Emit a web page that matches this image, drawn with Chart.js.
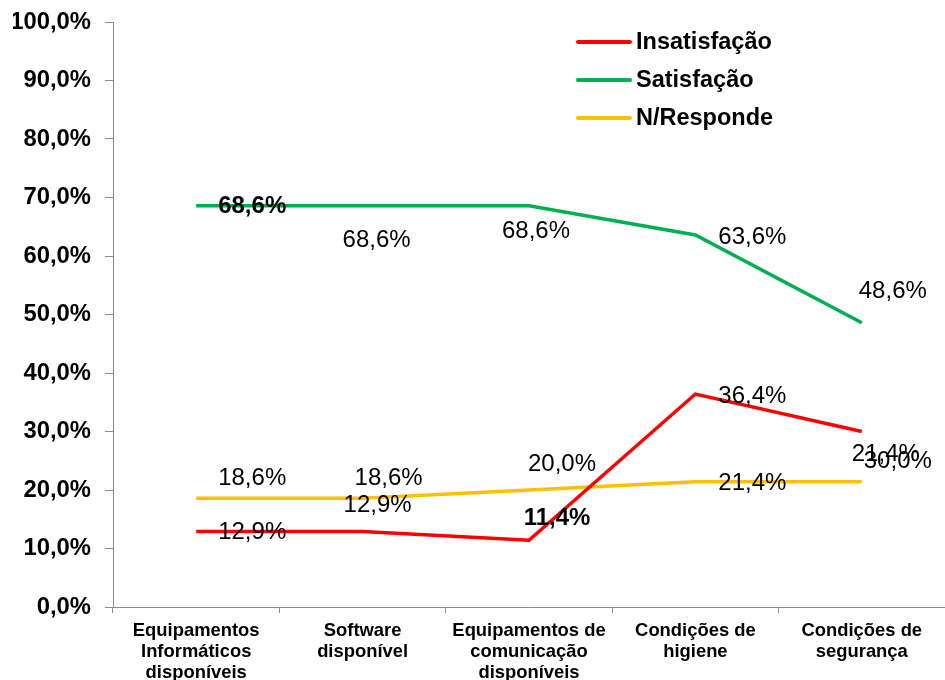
<!DOCTYPE html>
<html>
<head>
<meta charset="utf-8">
<script src="https://cdn.jsdelivr.net/npm/chart.js@4"></script>
<style>
    html, body { margin: 0; padding: 0; background: #ffffff; }
    #wrap { width: 945px; height: 680px; }
</style>
</head>
<body>
<div id="wrap"><canvas id="satChart"></canvas></div>
<script>
const categories = [
    ['Equipamentos', 'Informáticos', 'disponíveis'],
    ['Software', 'disponível'],
    ['Equipamentos de', 'comunicação', 'disponíveis'],
    ['Condições de', 'higiene'],
    ['Condições de', 'segurança']
];
const insatisfacao = [12.9, 12.9, 11.4, 36.4, 30.0];
const satisfacao = [68.6, 68.6, 68.6, 63.6, 48.6];
const naoResponde = [18.6, 18.6, 20.0, 21.4, 21.4];

// where each value label sits relative to its point (px)
const labelOffsets = [
    [[56, 1], [15, -26], [28, -22], [57, 2], [36, 30]],
    [[56, 1], [14, 35], [7, 26], [57, 2], [31, -31]],
    [[56, -20], [26, -20], [33, -26], [57, 2], [24, -27]]
];
const boldLabels = [[false, false, true, false, false], [true, false, false, false, false], [false, false, false, false, false]];

function fmt(v) {
    return v.toFixed(1).replace('.', ',') + '%';
}

const valueLabels = {
    id: 'valueLabels',
    afterDatasetsDraw(chart) {
        const ctx = chart.ctx;
        ctx.save();
        ctx.fillStyle = '#000000';
        ctx.textAlign = 'center';
        ctx.textBaseline = 'middle';
        chart.data.datasets.forEach(function(ds, i) {
            chart.getDatasetMeta(i).data.forEach(function(pt, j) {
                ctx.font = (boldLabels[i][j] ? 'bold ' : '') + '24px "Liberation Sans", Arial, sans-serif';
                ctx.fillText(fmt(ds.data[j]), pt.x + labelOffsets[i][j][0], pt.y + labelOffsets[i][j][1]);
            });
        });
        ctx.restore();
    }
};

const sideLegend = {
    id: 'sideLegend',
    afterDraw(chart) {
        const ctx = chart.ctx;
        ctx.save();
        ctx.font = 'bold 23.5px "Liberation Sans", Arial, sans-serif';
        ctx.textBaseline = 'middle';
        ctx.textAlign = 'left';
        chart.data.datasets.forEach(function(ds, i) {
            const y = 42 + i * 38;
            ctx.strokeStyle = ds.borderColor;
            ctx.lineWidth = 4;
            ctx.lineCap = 'round';
            ctx.beginPath();
            ctx.moveTo(578, y);
            ctx.lineTo(630, y);
            ctx.stroke();
            ctx.fillStyle = '#000000';
            ctx.fillText(ds.label, 636, y + 1);
        });
        ctx.restore();
    }
};

new Chart(document.getElementById('satChart'), {
    type: 'line',
    data: {
        labels: categories,
        datasets: [
            {
                label: 'Insatisfação',
                data: insatisfacao,
                borderColor: '#FF0000',
                borderWidth: 3.5,
                pointRadius: 0,
                tension: 0
            },
            {
                label: 'Satisfação',
                data: satisfacao,
                borderColor: '#00B050',
                borderWidth: 3.5,
                pointRadius: 0,
                tension: 0
            },
            {
                label: 'N/Responde',
                data: naoResponde,
                borderColor: '#FFC000',
                borderWidth: 3.5,
                pointRadius: 0,
                tension: 0
            }
        ]
    },
    options: {
        responsive: true,
        maintainAspectRatio: false,
        animation: false,
        layout: {
            padding: { left: 13, top: 22, right: -3, bottom: 0 }
        },
        plugins: {
            legend: { display: false },
            tooltip: { enabled: false }
        },
        scales: {
            x: {
                offset: true,
                grid: {
                    offset: true,
                    drawOnChartArea: false,
                    drawTicks: true,
                    tickLength: 6,
                    color: '#8c8c8c'
                },
                border: { color: '#8c8c8c', width: 1 },
                ticks: {
                    color: '#000000',
                    maxRotation: 0,
                    autoSkip: false,
                    padding: 7,
                    font: { family: '"Liberation Sans", Arial, sans-serif', size: 18.4, weight: 'bold', lineHeight: 1.15 }
                },
                afterFit: function(axis) {
                    axis.height = 73;
                    axis.paddingLeft = 0;
                    axis.paddingRight = 0;
                }
            },
            y: {
                min: 0,
                max: 100,
                grid: {
                    drawOnChartArea: false,
                    drawTicks: true,
                    tickLength: 8,
                    color: '#8c8c8c'
                },
                border: { color: '#8c8c8c', width: 1 },
                ticks: {
                    stepSize: 10,
                    color: '#000000',
                    padding: 14,
                    font: { family: '"Liberation Sans", Arial, sans-serif', size: 23.8, weight: 'bold' },
                    callback: function(value) {
                        return fmt(value);
                    }
                },
                afterFit: function(axis) {
                    axis.width = 100;
                    axis.paddingTop = 0;
                    axis.paddingBottom = 0;
                }
            }
        }
    },
    plugins: [valueLabels, sideLegend]
});
</script>
</body>
</html>
